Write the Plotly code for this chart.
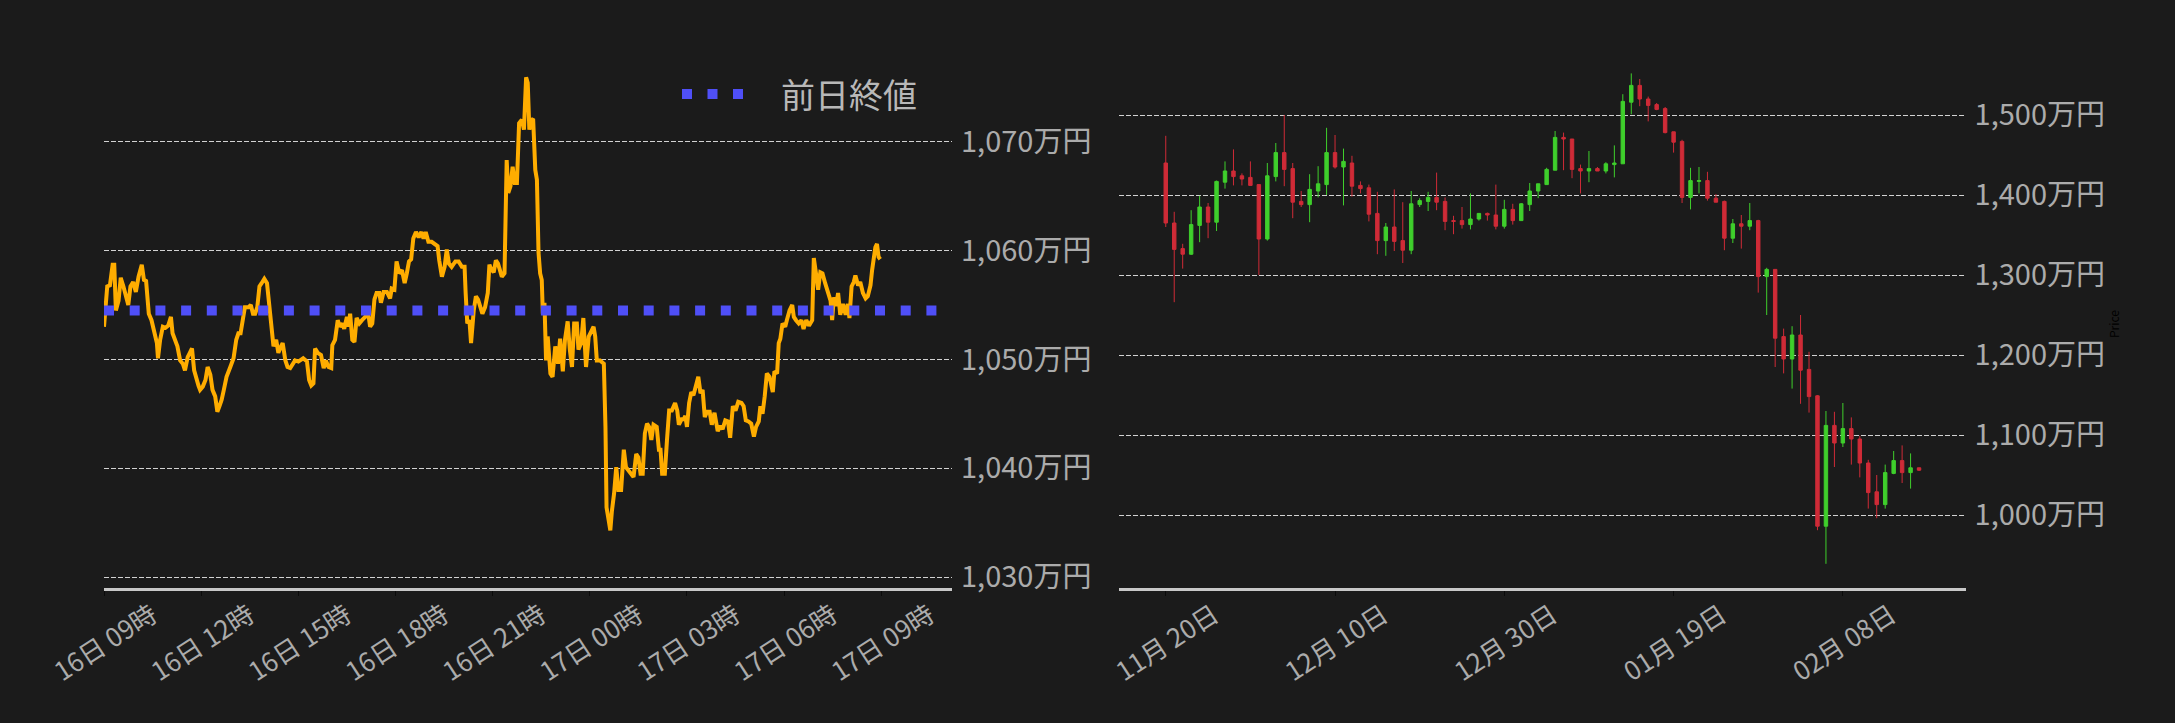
import pandas as pd
import plotly.graph_objects as go

# --- intraday price (left panel), minutes after 16日 09:00, in 万円
minutes = [
    0, 6, 11, 16, 19, 22, 27, 31, 36, 41, 45, 49, 54, 59, 64, 70, 74, 78, 83, 88,
    93, 98, 100, 104, 109, 114, 119, 124, 127, 132, 136, 141, 146, 150, 155, 159, 163, 167, 171, 175,
    178, 183, 188, 192, 197, 201, 206, 210, 214, 218, 222, 227, 234, 240, 245, 249, 253, 257, 261, 268,
    272, 276, 280, 284, 288, 292, 297, 302, 305, 308, 311, 314, 319, 323, 328, 331, 336, 340, 345, 350,
    354, 360, 369, 376, 380, 384, 388, 391, 396, 402, 407, 411, 416, 421, 423, 428, 433, 437, 442, 445,
    450, 453, 456, 460, 464, 468, 473, 478, 484, 489, 493, 497, 501, 505, 510, 513, 518, 524, 530, 533,
    538, 542, 547, 552, 557, 561, 565, 569, 573, 578, 583, 588, 592, 596, 601, 607, 614, 618, 621, 626,
    631, 635, 639, 644, 651, 657, 663, 668, 670, 673, 677, 680, 685, 689, 693, 697, 701, 706, 711, 714,
    717, 722, 726, 730, 734, 737, 742, 746, 749, 753, 757, 761, 765, 769, 774, 778, 782, 785, 788, 792,
    795, 799, 802, 805, 808, 811, 813, 816, 819, 822, 827, 831, 836, 841, 845, 850, 854, 859, 863, 867,
    871, 876, 879, 884, 888, 893, 898, 903, 907, 910, 913, 919, 926, 929, 931, 935, 938, 941, 945, 949,
    953, 958, 963, 967, 972, 977, 981, 986, 990, 994, 998, 1002, 1006, 1010, 1014, 1018, 1024, 1028, 1031, 1034,
    1039, 1043, 1047, 1052, 1058, 1062, 1065, 1070, 1074, 1077, 1080, 1084, 1088, 1092, 1097, 1101, 1105, 1109, 1113, 1117,
    1122, 1126, 1131, 1137, 1142, 1146, 1151, 1156, 1160, 1165, 1170, 1175, 1181, 1185, 1189, 1194, 1199, 1204, 1208, 1213,
    1216, 1220, 1224, 1228, 1233, 1236, 1239, 1242, 1247, 1250, 1253, 1257, 1262, 1265, 1270, 1275, 1278, 1282, 1287, 1292,
    1296, 1301, 1306, 1312, 1315, 1319, 1323, 1327, 1331, 1336, 1341, 1346, 1349, 1352, 1356, 1360, 1364, 1369, 1374, 1378,
    1381, 1385, 1389, 1392, 1397, 1401, 1406, 1411, 1415, 1420, 1423, 1426, 1429, 1432, 1435, 1438,
]
prices = [
    1053.0, 1056.7, 1056.8, 1058.7, 1058.7, 1054.5, 1055.4, 1057.5, 1056.7, 1055.7, 1055.0, 1056.7, 1057.1, 1056.2, 1057.6, 1058.7, 1057.3, 1057.2, 1054.2, 1053.6,
    1052.7, 1051.5, 1050.1, 1051.8, 1053.0, 1052.9, 1053.1, 1053.9, 1052.4, 1051.8, 1051.2, 1049.9, 1049.6, 1049.0, 1050.2, 1050.6, 1051.0, 1049.0, 1048.1, 1047.6,
    1047.2, 1047.5, 1048.1, 1049.3, 1048.6, 1047.2, 1046.6, 1045.2, 1045.7, 1046.3, 1047.2, 1048.4, 1049.3, 1050.1, 1051.8, 1052.4, 1052.4, 1053.6, 1054.8, 1054.8,
    1055.0, 1054.2, 1054.2, 1054.8, 1056.7, 1057.0, 1057.4, 1057.0, 1055.7, 1054.5, 1053.0, 1051.2, 1051.8, 1050.6, 1051.2, 1051.5, 1049.9, 1049.3, 1049.2, 1049.6,
    1049.9, 1049.8, 1050.1, 1049.8, 1048.1, 1047.6, 1047.8, 1051.0, 1050.6, 1050.4, 1049.2, 1049.9, 1049.3, 1049.2, 1051.3, 1051.8, 1053.6, 1053.0, 1053.3, 1052.8,
    1053.9, 1053.0, 1054.2, 1051.8, 1051.6, 1053.8, 1053.3, 1053.6, 1053.9, 1054.4, 1053.0, 1053.3, 1055.5, 1056.1, 1056.1, 1055.2, 1056.2, 1056.2, 1055.6, 1056.5,
    1056.4, 1059.0, 1057.9, 1058.2, 1057.0, 1057.9, 1059.0, 1059.2, 1061.1, 1061.7, 1061.2, 1061.7, 1061.1, 1061.7, 1060.8, 1060.8, 1060.6, 1060.4, 1059.1, 1057.6,
    1058.5, 1060.1, 1058.8, 1058.5, 1059.0, 1059.0, 1058.5, 1058.5, 1056.1, 1053.3, 1053.6, 1051.5, 1054.5, 1055.8, 1055.5, 1054.8, 1054.2, 1054.8, 1056.1, 1058.7,
    1058.3, 1058.0, 1059.1, 1058.8, 1058.2, 1057.6, 1057.9, 1068.3, 1065.3, 1065.9, 1067.7, 1066.2, 1066.2, 1071.7, 1072.0, 1071.1, 1075.9, 1075.4, 1071.1, 1072.0,
    1072.1, 1067.4, 1066.5, 1059.8, 1057.9, 1057.3, 1054.2, 1055.2, 1049.9, 1052.1, 1048.7, 1048.4, 1051.2, 1049.6, 1051.9, 1048.9, 1051.8, 1053.5, 1050.9, 1049.3,
    1053.3, 1053.3, 1050.9, 1051.5, 1053.8, 1049.3, 1052.1, 1052.7, 1053.0, 1052.1, 1049.9, 1049.9, 1049.6, 1043.8, 1036.4, 1035.2, 1034.3, 1036.1, 1037.7, 1040.1,
    1038.0, 1038.0, 1041.7, 1040.1, 1039.8, 1039.5, 1039.2, 1041.3, 1041.0, 1039.5, 1039.5, 1043.2, 1044.1, 1043.8, 1042.6, 1044.0, 1043.8, 1041.7, 1041.7, 1039.5,
    1039.5, 1042.6, 1045.3, 1045.3, 1046.0, 1045.3, 1044.0, 1044.5, 1044.5, 1044.8, 1043.8, 1046.0, 1047.0, 1046.7, 1047.5, 1048.4, 1046.9, 1047.2, 1044.7, 1045.2,
    1045.2, 1044.0, 1045.1, 1043.4, 1043.9, 1043.6, 1044.4, 1044.3, 1042.8, 1045.7, 1045.3, 1046.1, 1046.0, 1045.7, 1044.4, 1044.3, 1044.1, 1042.9, 1043.8, 1044.3,
    1045.7, 1045.0, 1046.6, 1048.7, 1048.4, 1047.5, 1047.0, 1048.9, 1048.7, 1051.5, 1051.9, 1053.3, 1053.0, 1053.6, 1054.5, 1055.0, 1053.9, 1053.6, 1053.3, 1053.6,
    1052.8, 1053.6, 1053.1, 1053.6, 1059.3, 1057.9, 1056.4, 1058.0, 1057.9, 1057.0, 1056.2, 1055.4, 1053.6, 1055.7, 1054.9, 1056.1, 1054.1, 1055.1, 1054.1, 1055.1,
    1053.8, 1056.7, 1057.1, 1057.7, 1056.8, 1057.1, 1056.1, 1055.6, 1055.8, 1056.8, 1058.2, 1059.1, 1060.3, 1060.6, 1059.4, 1059.2,
]
prev_close = 1054.5
left_ticks = [1030, 1040, 1050, 1060, 1070]
left_ticktext = ["1,030万円", "1,040万円", "1,050万円", "1,060万円", "1,070万円"]

# --- daily candles (right panel), 万円
first_day = "2025-11-20"
opens = [
    1440, 1365, 1333, 1326, 1362, 1385, 1366, 1416, 1430, 1424, 1422, 1413, 1345, 1423, 1453, 1433, 1392, 1388, 1405, 1413,
    1453, 1435, 1440, 1412, 1409, 1377, 1343, 1360, 1343, 1331, 1388, 1392, 1397, 1392, 1368, 1368, 1363, 1370, 1377, 1375,
    1361, 1382, 1368, 1388, 1405, 1413, 1431, 1472, 1470, 1433, 1430, 1433, 1430, 1438, 1439, 1516, 1537, 1520, 1513, 1508,
    1479, 1467, 1397, 1417, 1418, 1396, 1392, 1346, 1364, 1361, 1368, 1298, 1307, 1223, 1195, 1225, 1182, 1149, 986, 1112,
    1090, 1108, 1095, 1065, 1029, 1013, 1052, 1068, 1053, 1059,
]
highs = [
    1474, 1379, 1339, 1381, 1399, 1390, 1418, 1442, 1457, 1427, 1442, 1413, 1440, 1465, 1500, 1440, 1405, 1426, 1436, 1484,
    1475, 1458, 1449, 1417, 1413, 1404, 1365, 1407, 1391, 1405, 1396, 1404, 1428, 1397, 1374, 1385, 1402, 1377, 1378, 1413,
    1394, 1389, 1390, 1415, 1414, 1434, 1480, 1478, 1470, 1438, 1455, 1435, 1441, 1462, 1526, 1552, 1545, 1523, 1515, 1510,
    1479, 1469, 1434, 1435, 1429, 1401, 1393, 1370, 1375, 1390, 1369, 1309, 1307, 1233, 1236, 1250, 1204, 1150, 1130, 1129,
    1140, 1122, 1099, 1069, 1050, 1063, 1080, 1087, 1077, 1059,
]
lows = [
    1360, 1266, 1308, 1325, 1341, 1346, 1355, 1408, 1412, 1412, 1412, 1300, 1343, 1417, 1411, 1371, 1385, 1366, 1397, 1400,
    1433, 1387, 1398, 1402, 1367, 1326, 1324, 1330, 1315, 1326, 1385, 1380, 1381, 1356, 1351, 1358, 1357, 1368, 1368, 1357,
    1358, 1363, 1368, 1380, 1396, 1413, 1431, 1431, 1421, 1402, 1416, 1430, 1427, 1422, 1439, 1501, 1511, 1492, 1506, 1477,
    1453, 1390, 1382, 1402, 1393, 1391, 1331, 1340, 1333, 1356, 1278, 1250, 1185, 1177, 1158, 1139, 1128, 981, 939, 1060,
    1085, 1063, 1047, 1008, 996, 1008, 1051, 1040, 1033, 1055,
]
closes = [
    1365, 1332, 1326, 1363, 1385, 1366, 1417, 1430, 1423, 1420, 1412, 1345, 1424, 1453, 1432, 1391, 1388, 1407, 1414, 1453,
    1435, 1442, 1411, 1408, 1376, 1343, 1360, 1342, 1331, 1389, 1393, 1397, 1391, 1367, 1367, 1363, 1370, 1377, 1375, 1361,
    1382, 1368, 1389, 1405, 1414, 1432, 1472, 1470, 1432, 1430, 1433, 1430, 1439, 1440, 1517, 1537, 1520, 1512, 1507, 1478,
    1466, 1397, 1418, 1418, 1396, 1391, 1346, 1364, 1361, 1368, 1298, 1307, 1221, 1195, 1225, 1181, 1148, 986, 1112, 1090,
    1108, 1095, 1065, 1028, 1013, 1053, 1068, 1053, 1059, 1056,
]
right_ticks = [1000, 1100, 1200, 1300, 1400, 1500]
right_ticktext = ["1,000万円", "1,100万円", "1,200万円", "1,300万円", "1,400万円", "1,500万円"]

start = pd.Timestamp("2026-02-16 09:00")
times = start + pd.to_timedelta(minutes, unit="m")
days = pd.date_range(first_day, periods=len(opens), freq="D")

bg = "#1b1b1b"
label_col = "#ababab"
font_family = "Noto Sans CJK JP, Noto Sans, sans-serif"

fig = go.Figure()

# intraday line
fig.add_trace(go.Scatter(
    x=times, y=prices, mode="lines",
    line=dict(color="#ffad00", width=4),
    xaxis="x", yaxis="y", showlegend=False,
))

# daily candles
fig.add_trace(go.Candlestick(
    x=days, open=opens, high=highs, low=lows, close=closes,
    increasing=dict(line=dict(color="#3fcf2c", width=1), fillcolor="#3fcf2c"),
    decreasing=dict(line=dict(color="#cf2b37", width=1), fillcolor="#cf2b37"),
    whiskerwidth=0,
    xaxis="x2", yaxis="y2", showlegend=False,
))

# previous close line (blue squares)
fig.add_shape(
    type="line", xref="x domain", x0=0, x1=1, yref="y", y0=prev_close, y1=prev_close,
    line=dict(color="#4f4ff7", width=10, dash="10px,15.7px"), layer="above",
)

# legend for previous close
fig.add_shape(
    type="line", xref="paper", yref="paper", x0=682 / 2175, x1=743 / 2175, y0=0.87, y1=0.87,
    line=dict(color="#4f4ff7", width=10, dash="10px,15.5px"),
)
fig.add_annotation(
    text="前日終値", xref="paper", yref="paper", x=779 / 2175, y=0.87,
    xanchor="left", yanchor="middle", showarrow=False,
    font=dict(size=34, color="#b8b8b8", family=font_family),
)

y_dom = [135 / 723, 663 / 723]
axis_common = dict(
    automargin=False,
    showline=True, linecolor="#c8c8c8", linewidth=3,
    ticks="outside", ticklen=5, tickcolor="#0a0a0a", tickwidth=1,
    tickangle=-33, ticklabelshift=48, ticklabelstandoff=-6,
    showgrid=False, zeroline=False,
    tickfont=dict(size=26, color=label_col, family=font_family),
)
yaxis_common = dict(
    automargin=False,
    side="right", showline=False, zeroline=False, ticks="",
    showgrid=True, gridcolor="#d2d2d2", gridwidth=1, griddash="5px,2px",
    tickfont=dict(size=29, color=label_col, family=font_family),
    ticklabelstandoff=8,
)

fig.update_layout(
    width=2175, height=723,
    paper_bgcolor=bg, plot_bgcolor=bg,
    margin=dict(l=0, r=0, t=0, b=0, autoexpand=False),
    boxgap=0.42,
    xaxis=dict(
        domain=[104 / 2175, 952 / 2175], type="date",
        range=[start, start + pd.Timedelta(hours=26, minutes=11)],
        tickformat="%d日 %H時", tick0=start, dtick=3 * 3600 * 1000,
        anchor="y", **axis_common,
    ),
    yaxis=dict(
        domain=y_dom, range=[1029.0, 1077.5],
        tickvals=left_ticks, ticktext=left_ticktext, anchor="x",
        **yaxis_common,
    ),
    xaxis2=dict(
        domain=[1118.5 / 2175, 1965.6 / 2175], type="date",
        range=["2025-11-14 10:00", "2026-02-22 12:00"],
        tickformat="%m月 %d日", tick0=first_day, dtick=20 * 86400000,
        rangeslider=dict(visible=False), anchor="y2", **axis_common,
    ),
    yaxis2=dict(
        domain=y_dom, range=[908.75, 1568.75],
        tickvals=right_ticks, ticktext=right_ticktext, anchor="x2",
        title=dict(text="Price", font=dict(size=12, color="#000000", family=font_family), standoff=6),
        **yaxis_common,
    ),
)

fig.write_html(
    "out.html",
    config={"displayModeBar": False},
    post_script="document.body.style.margin='0';",
)
